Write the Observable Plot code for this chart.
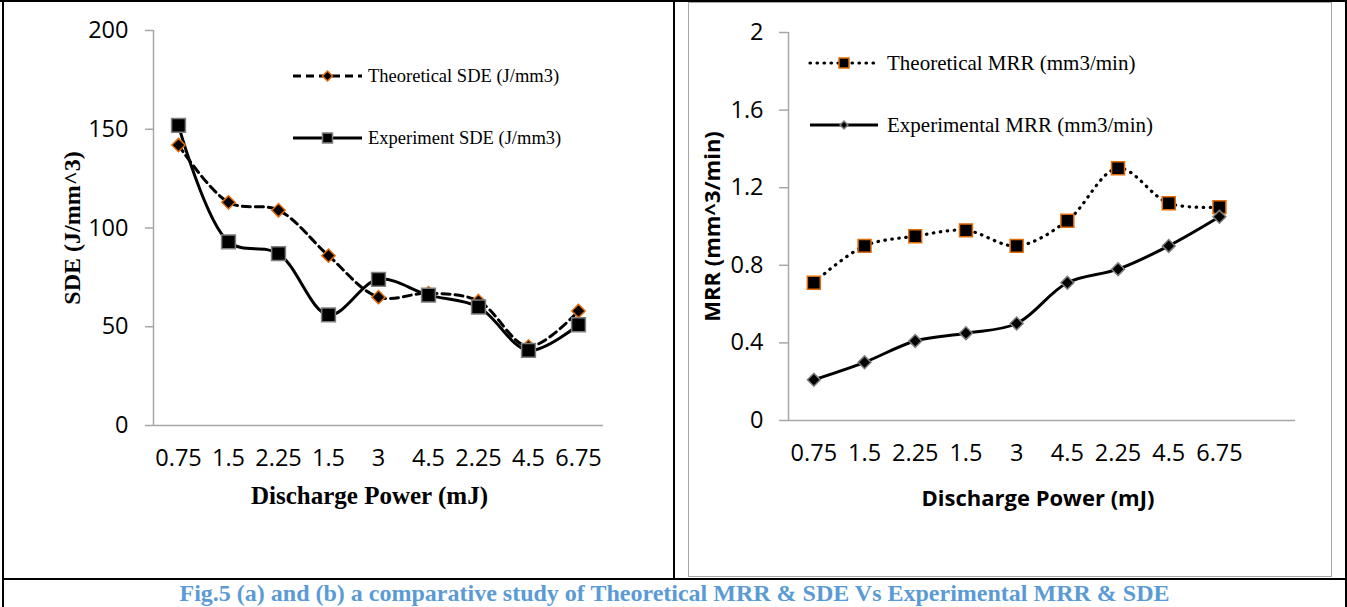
<!DOCTYPE html>
<html>
<head>
<meta charset="utf-8">
<script src="https://cdn.jsdelivr.net/npm/d3@7"></script>
<script src="https://cdn.jsdelivr.net/npm/@observablehq/plot@0.6"></script>
<style>
html, body { margin: 0; padding: 0; background: #fff; overflow: hidden; }
#page { position: relative; width: 1347px; height: 607px; overflow: hidden; background: #fff; }
.b { position: absolute; background: #000; }
#frame { position: absolute; left: 688px; top: 2px; width: 642px; height: 573px; border: 1px solid #a6a6a6; }
#left { position: absolute; left: 0; top: 0; }
#right { position: absolute; left: 688px; top: 0; }
#caption { position: absolute; left: 4px; top: 581px; width: 1341px; text-align: center;
  font-family: "Liberation Serif", "Times New Roman", serif; font-weight: bold; font-size: 24px;
  line-height: 1; color: #5b9bd5; white-space: nowrap; }
</style>
</head>
<body>
<div id="page">
  <div id="frame"></div>
  <div id="left"></div>
  <div id="right"></div>
  <div class="b" style="left:0;top:0;width:1347px;height:2px"></div>
  <div class="b" style="left:2px;top:0;width:2px;height:607px"></div>
  <div class="b" style="left:673px;top:0;width:2px;height:579px"></div>
  <div class="b" style="left:2px;top:578px;width:1345px;height:2px"></div>
  <div class="b" style="left:1345px;top:0;width:2px;height:607px"></div>
  <div id="caption">Fig.5 (a) and (b) a comparative study of Theoretical MRR &amp; SDE Vs Experimental MRR &amp; SDE</div>
</div>
<script>
// ---- data ----
const categories = ["0.75", "1.5", "2.25", "1.5", "3", "4.5", "2.25", "4.5", "6.75"];
const theoreticalSDE = [142, 113, 109, 86, 65, 67, 63, 40, 58];
const experimentSDE = [152, 93, 87, 56, 74, 66, 60, 38, 51];
const theoreticalMRR = [0.71, 0.90, 0.95, 0.98, 0.90, 1.03, 1.30, 1.12, 1.10];
const experimentalMRR = [0.21, 0.30, 0.41, 0.45, 0.50, 0.71, 0.78, 0.90, 1.05];
const sdeTicks = [0, 50, 100, 150, 200];
const mrrTicks = [0, 0.4, 0.8, 1.2, 1.6, 2];

const rows = arr => categories.map((c, i) => ({i, c, v: arr[i]}));
const AXIS = "#a6a6a6";
const ORANGE = "#e36c09";
const GRAY = "#7f7f7f";
const SERIF = "'Liberation Serif', 'Times New Roman', serif";
const SANS = "'Open Sans', sans-serif";

const baseStyle = {fontFamily: SANS, fontSize: "23px", color: "#000", background: "none", overflow: "visible"};

// ---- left chart (SDE) ----
const tS = rows(theoreticalSDE), eS = rows(experimentSDE);
const left = Plot.plot({
  width: 673, height: 578,
  marginLeft: 153, marginRight: 70, marginTop: 30, marginBottom: 153,
  x: {type: "linear", domain: [-0.5, 8.5]},
  y: {domain: [0, 200]},
  style: baseStyle,
  marks: [
    Plot.ruleX([-0.5], {stroke: AXIS, strokeWidth: 1.5}),
    Plot.ruleY([0], {stroke: AXIS, strokeWidth: 1.5}),
    Plot.axisY({ticks: sdeTicks, tickSize: 8, tickPadding: 17, stroke: AXIS, strokeWidth: 1.5, fill: "#000", fontSize: 23.5, label: null, tickFormat: d => String(d)}),
    Plot.axisX({ticks: d3.range(categories.length), tickSize: 0, tickPadding: 24, fill: "#000", fontSize: 23.5, label: null, tickFormat: i => categories[i]}),
    Plot.line(tS, {x: "i", y: "v", curve: "catmull-rom", stroke: "#000", strokeWidth: 3, strokeDasharray: "8,5"}),
    Plot.line(eS, {x: "i", y: "v", curve: "catmull-rom", stroke: "#000", strokeWidth: 3}),
    Plot.dot(tS, {x: "i", y: "v", symbol: "diamond2", r: 6, fill: "#000", stroke: ORANGE, strokeWidth: 1.5}),
    Plot.dot(eS, {x: "i", y: "v", symbol: "square", r: 7.8, fill: "#000", stroke: GRAY, strokeWidth: 1.5}),
    Plot.text(["SDE (J/mm^3)"], {text: d => d, frameAnchor: "left", dx: -81, rotate: -90, textAnchor: "middle", lineAnchor: "middle", fontFamily: SERIF, fontWeight: "bold", fontSize: 24, fill: "#000"}),
    Plot.text(["Discharge Power (mJ)"], {text: d => d, frameAnchor: "bottom", dy: 70, dx: -9, textAnchor: "middle", lineAnchor: "middle", fontFamily: SERIF, fontWeight: "bold", fontSize: 25, fill: "#000"})
  ]
});
document.getElementById("left").appendChild(left);

// ---- right chart (MRR) ----
const tM = rows(theoreticalMRR), eM = rows(experimentalMRR);
const right = Plot.plot({
  width: 644, height: 578,
  marginLeft: 100, marginRight: 37, marginTop: 32, marginBottom: 158,
  x: {type: "linear", domain: [-0.5, 9.5]},
  y: {domain: [0, 2]},
  style: baseStyle,
  marks: [
    Plot.ruleX([-0.5], {stroke: AXIS, strokeWidth: 1.5}),
    Plot.ruleY([0], {stroke: AXIS, strokeWidth: 1.5}),
    Plot.axisY({ticks: mrrTicks, tickSize: 9, tickPadding: 16, stroke: AXIS, strokeWidth: 1.5, fill: "#000", fontSize: 23.5, label: null, tickFormat: d => String(d)}),
    Plot.axisX({ticks: d3.range(categories.length), tickSize: 0, tickPadding: 24, fill: "#000", fontSize: 23.5, label: null, tickFormat: i => categories[i]}),
    Plot.line(tM, {x: "i", y: "v", curve: "catmull-rom", stroke: "#000", strokeWidth: 3.2, strokeDasharray: "0.5,6.5", strokeLinecap: "round"}),
    Plot.line(eM, {x: "i", y: "v", curve: "catmull-rom", stroke: "#000", strokeWidth: 3}),
    Plot.dot(tM, {x: "i", y: "v", symbol: "square", r: 7.3, fill: "#000", stroke: ORANGE, strokeWidth: 1.5}),
    Plot.dot(eM, {x: "i", y: "v", symbol: "diamond2", r: 5.8, fill: "#000", stroke: GRAY, strokeWidth: 1.5}),
    Plot.text(["MRR (mm^3/min)"], {text: d => d, frameAnchor: "left", dx: -76, rotate: -90, textAnchor: "middle", lineAnchor: "middle", fontFamily: SANS, fontWeight: "bold", fontSize: 22, fill: "#000"}),
    Plot.text(["Discharge Power (mJ)"], {text: d => d, frameAnchor: "bottom", dy: 78, dx: -4, textAnchor: "middle", lineAnchor: "middle", fontFamily: SANS, fontWeight: "bold", fontSize: 22, fill: "#000"})
  ]
});
document.getElementById("right").appendChild(right);

// ---- legends ----
function legend(svg, items) {
  const g = d3.select(svg).append("g").attr("text-anchor", "start");
  for (const it of items) {
    g.append("line").attr("x1", it.x1).attr("x2", it.x2).attr("y1", it.y).attr("y2", it.y)
      .attr("stroke", "#000").attr("stroke-width", it.sw).attr("stroke-dasharray", it.dash || null)
      .attr("stroke-linecap", it.cap || null);
    g.append("path").attr("d", d3.symbol(it.symbol, it.size)())
      .attr("transform", `translate(${(it.x1 + it.x2) / 2},${it.y})`)
      .attr("fill", "#000").attr("stroke", it.mstroke).attr("stroke-width", 1.5);
    g.append("text").attr("x", it.tx).attr("y", it.y).attr("dy", "0.35em")
      .attr("text-anchor", "start")
      .attr("font-family", SERIF).attr("font-size", it.fs).attr("fill", "#000").text(it.label);
  }
}
legend(left, [
  {x1: 293, x2: 362, y: 76, sw: 3, dash: "8,5", symbol: d3.symbolDiamond2, size: 64, mstroke: ORANGE, tx: 368, fs: 18.5, label: "Theoretical SDE (J/mm3)"},
  {x1: 293, x2: 362, y: 138, sw: 3, symbol: d3.symbolSquare, size: 100, mstroke: GRAY, tx: 368, fs: 18.5, label: "Experiment SDE (J/mm3)"}
]);
legend(right, [
  {x1: 122, x2: 190, y: 63, sw: 3.2, dash: "0.5,6.5", cap: "round", symbol: d3.symbolSquare, size: 100, mstroke: ORANGE, tx: 199, fs: 21, label: "Theoretical MRR (mm3/min)"},
  {x1: 122, x2: 190, y: 125, sw: 3, symbol: d3.symbolDiamond2, size: 40, mstroke: GRAY, tx: 199, fs: 21, label: "Experimental MRR (mm3/min)"}
]);
</script>
</body>
</html>
